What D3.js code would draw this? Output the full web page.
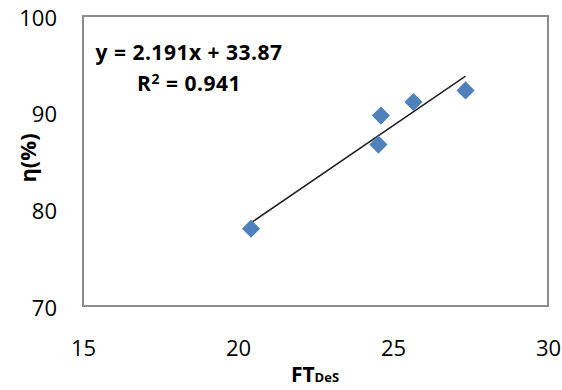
<!DOCTYPE html>
<html>
<head>
<meta charset="utf-8">
<script src="https://cdn.jsdelivr.net/npm/d3@7"></script>
<style>
  html, body { margin: 0; padding: 0; background: #fff; }
  svg text { font-family: "Open Sans", sans-serif; fill: #000; }
</style>
</head>
<body>
<svg id="chart" width="562" height="390"></svg>
<script>
var ftDes = [20.42, 24.53, 24.61, 25.66, 27.34];
var eta = [78.0, 86.7, 89.7, 91.1, 92.3];
var xTicks = [15, 20, 25, 30];
var yTicks = [70, 80, 90, 100];
var slope = 2.191, intercept = 33.87, r2 = 0.941;

var svg = d3.select('#chart'),
    box = {left: 83, right: 548, top: 16, bottom: 306};

var x = d3.scaleLinear().domain([15, 30]).range([box.left, box.right]),
    y = d3.scaleLinear().domain([70, 100]).range([box.bottom, box.top]);

// plot frame
svg.append('rect')
    .attr('x', box.left).attr('y', box.top)
    .attr('width', box.right - box.left)
    .attr('height', box.bottom - box.top)
    .attr('fill', '#fff')
    .attr('stroke', '#8c8c8c')
    .attr('stroke-width', 2);

// y axis labels
svg.append('g')
    .attr('transform', 'translate(' + (box.left - 26) + ',2)')
    .call(d3.axisLeft(y).tickValues(yTicks).tickSize(0).tickPadding(0))
    .call(function(g) { g.select('.domain').remove(); })
    .selectAll('text')
    .attr('font-size', 22)
    .attr('font-family', '"Open Sans", sans-serif')
    .attr('fill', '#000');

// x axis labels
svg.append('g')
    .attr('transform', 'translate(0,' + (box.bottom + 34) + ')')
    .call(d3.axisBottom(x).tickValues(xTicks).tickSize(0).tickPadding(0))
    .call(function(g) { g.select('.domain').remove(); })
    .selectAll('text')
    .attr('font-size', 22)
    .attr('font-family', '"Open Sans", sans-serif')
    .attr('fill', '#000');

// trend line over the data range
var xExt = d3.extent(ftDes);
svg.append('line')
    .attr('x1', x(xExt[0])).attr('y1', y(slope * xExt[0] + intercept))
    .attr('x2', x(xExt[1])).attr('y2', y(slope * xExt[1] + intercept))
    .attr('stroke', '#222')
    .attr('stroke-width', 1.5);

// markers
var diamond = d3.symbol().type(d3.symbolSquare).size(165);
svg.selectAll('path.pt')
    .data(ftDes)
    .enter()
    .append('path')
    .classed('pt', true)
    .attr('d', diamond)
    .attr('fill', '#4f81bd')
    .attr('transform', function(d, i) {
        return 'translate(' + x(d) + ',' + y(eta[i]) + ') rotate(45)';
    });

// equation
var eq = svg.append('text')
    .attr('font-size', 21)
    .attr('font-weight', 'bold')
    .attr('letter-spacing', 0.5)
    .attr('text-anchor', 'middle');
eq.append('tspan')
    .attr('x', 189).attr('y', 60)
    .text('y = ' + slope + 'x + ' + intercept);
var r = eq.append('tspan')
    .attr('x', 189).attr('y', 91);
r.append('tspan').text('R');
r.append('tspan').attr('font-size', 14).attr('dy', -7).text('2');
r.append('tspan').attr('dy', 7).text(' = ' + r2);

// axis titles
svg.append('text')
    .attr('transform', 'translate(36,158) rotate(-90)')
    .attr('text-anchor', 'middle')
    .attr('font-size', 22)
    .attr('font-weight', 'bold')
    .text('η(%)');

var xt = svg.append('text')
    .attr('x', 315).attr('y', 382)
    .attr('text-anchor', 'middle')
    .attr('font-weight', 'bold')
    .attr('font-size', 21);
xt.append('tspan').text('FT');
xt.append('tspan').attr('font-size', 13).text('DeS');
</script>
</body>
</html>
